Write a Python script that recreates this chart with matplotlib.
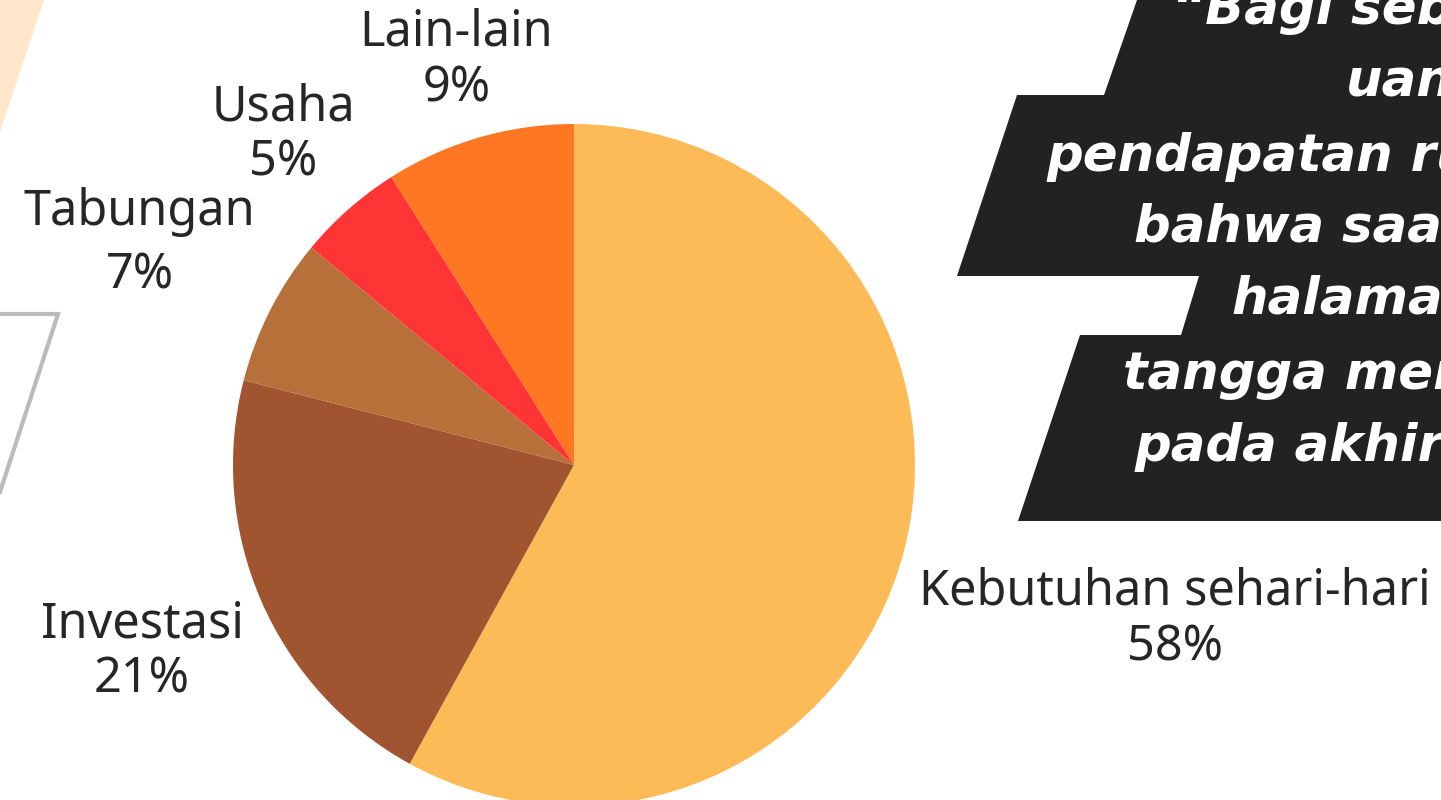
import numpy as np
import matplotlib.pyplot as plt
from matplotlib.patches import Polygon

# slice data, clockwise from 12 o'clock
categories = ["Kebutuhan sehari-hari", "Investasi", "Tabungan", "Usaha", "Lain-lain"]
shares = [58, 21, 7, 5, 9]
colors = ["#FDBB58", "#A05530", "#B8703A", "#FF3535", "#FF7722"]

# quote on the right (cut off by the page edge in the original)
quote_lines = ["\u201cBagi sebagian", "uang", "pendapatan rumah", "bahwa saat",
               "halaman", "tangga mereka", "pada akhir"]

W, H = 1441, 800
TXT = "#262626"
FONT = "DejaVu Sans"
LABEL_FONT = "Noto Sans"


def px(x, y):
    # pixel coords (origin top-left) -> data coords
    return (x, H - y)


fig = plt.figure(figsize=(W / 100, H / 100), dpi=100)
ax = fig.add_axes([0, 0, 1, 1])

# background decoration
peach = Polygon([px(0, 0), px(44, 0), px(0, 132)], closed=True,
                facecolor="#FFE7CB", edgecolor="none", zorder=0)
ax.add_patch(peach)
ax.plot([0, 58, 0], [H - 314, H - 314, H - 492], color="#BBBBBB", lw=3,
        solid_joinstyle="miter", zorder=0)

band = Polygon([px(1137, 0), px(1441, 0), px(1441, 521), px(1018, 521),
                px(1080, 335), px(1181, 335), px(1199, 276), px(957, 276),
                px(1017, 95), px(1104, 95)],
               closed=True, facecolor="#222222", edgecolor="none", zorder=0)
ax.add_patch(band)

quote_x = [1172, 1346, 1046, 1134, 1231, 1123, 1135]
quote_y = [10, 82, 157, 228, 300, 375, 447]
for s, qx, qy in zip(quote_lines, quote_x, quote_y):
    ax.text(qx, H - qy, s, color="white", fontsize=37, fontweight="bold",
            fontstyle="italic", family=FONT, ha="left", va="center",
            clip_on=True, zorder=2)

# the pie
center = px(574, 465)
radius = 341
wedges, _ = ax.pie(shares, colors=colors, startangle=90, counterclock=False,
                   center=center, radius=radius, frame=True,
                   wedgeprops=dict(edgecolor="none"))

label_dist = [1.82, 1.38, 1.43, 1.29, 1.235]
label_gap = [1.15, 1.15, 1.35, 1.15, 1.15]
for w, name, val, d, ls in zip(wedges, categories, shares, label_dist, label_gap):
    ang = np.deg2rad((w.theta1 + w.theta2) / 2)
    lx = center[0] + d * radius * np.cos(ang)
    ly = center[1] + d * radius * np.sin(ang)
    ax.text(lx, ly, f"{name}\n{val}%", ha="center", va="center",
            fontsize=35, color=TXT, family=LABEL_FONT, fontweight="light",
            linespacing=ls)

ax.set_xlim(0, W)
ax.set_ylim(0, H)
ax.set_aspect("equal")
ax.axis("off")

fig.savefig("out.png", dpi=100)
